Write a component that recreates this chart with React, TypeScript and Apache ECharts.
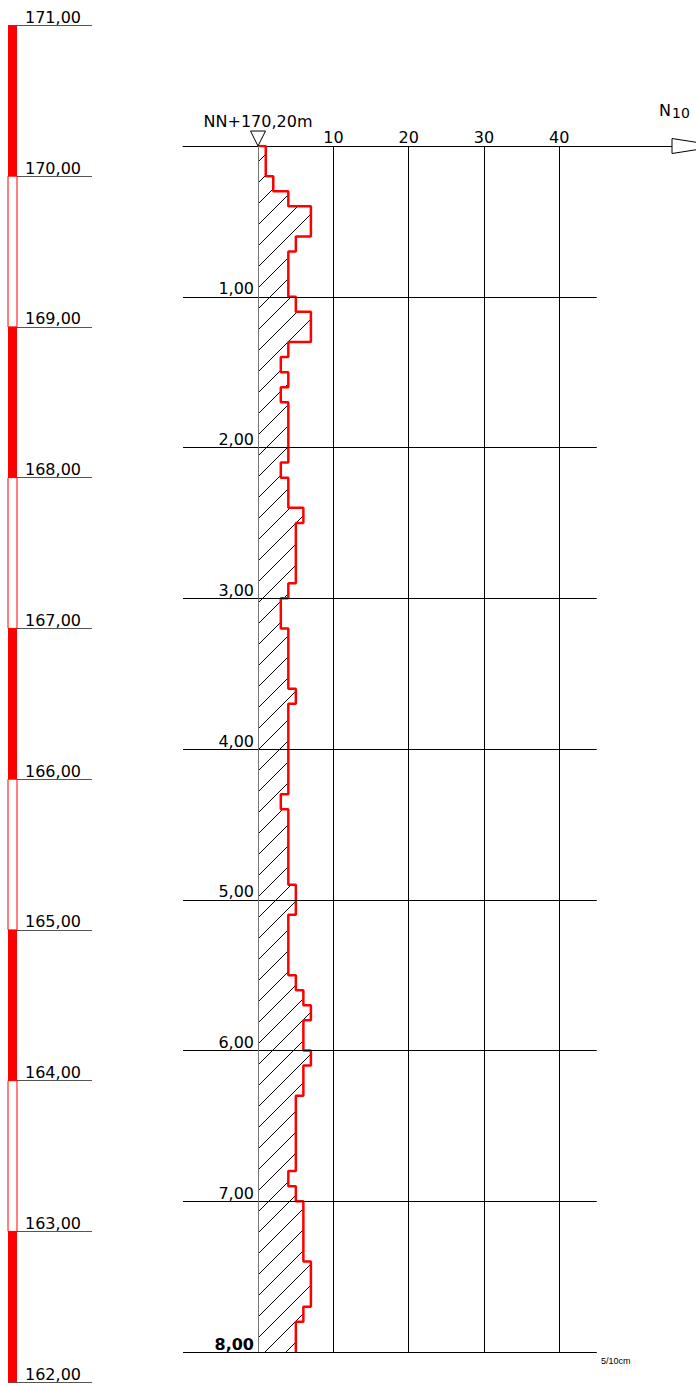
import React, { useEffect, useRef } from 'react';
import * as echarts from 'echarts';

// N10 blow counts per 10 cm, depth 0.0 .. 8.0 m
const depthStep = 0.1;
const n10Values = [
  1, 1, 2, 4, 7, 7, 5, 4, 4, 4,
  5, 7, 7, 4, 3, 4, 3, 4, 4, 4,
  4, 3, 4, 4, 6, 5, 5, 5, 5, 4,
  3, 3, 4, 4, 4, 4, 5, 4, 4, 4,
  4, 4, 4, 3, 4, 4, 4, 4, 4, 5,
  5, 4, 4, 4, 4, 5, 6, 7, 6, 6,
  7, 6, 6, 5, 5, 5, 5, 5, 4, 5,
  6, 6, 6, 6, 7, 7, 7, 6, 5, 5,
];
const xTickLabels = [10, 20, 30, 40];
const depthLines = [1, 2, 3, 4, 5, 6, 7, 8];
const maxDepth = 8;
const gridLineEnd = 45;
const elevationTops = [171, 170, 169, 168, 167, 166, 165, 164, 163];
const surfaceLabel = 'NN+170,20m';
const scaleNote = '5/10cm';

const FONT = '"DejaVu Sans", sans-serif';

function fmt(v: number): string {
  return v.toFixed(2).replace('.', ',');
}

function makeHatch(): any {
  const s = 21;
  const c = document.createElement('canvas');
  c.width = s;
  c.height = s;
  const ctx = c.getContext('2d')!;
  ctx.fillStyle = '#000';
  for (let x = 0; x < s; x++) {
    ctx.fillRect(x, s - 1 - x, 1, 1);
  }
  return { image: c, repeat: 'repeat', imageWidth: s, imageHeight: s };
}

export default function App() {
  const ref = useRef<HTMLDivElement>(null);

  useEffect(() => {
    document.body.style.margin = '0';
    const chart = echarts.init(ref.current!, null, { renderer: 'svg' });
    const hatch = makeHatch();

    const outline: number[][] = [[0, 0]];
    n10Values.forEach((v, i) => {
      const top = Number((i * depthStep).toFixed(2));
      const bot = Number(((i + 1) * depthStep).toFixed(2));
      outline.push([v, top], [v, bot]);
    });

    const blackLines: any[] = [
      ...xTickLabels.map((x) => [{ coord: [x, 0] }, { coord: [x, maxDepth] }]),
      ...depthLines.map((d) => [{ coord: [-10, d] }, { coord: [gridLineEnd, d] }]),
    ];
    const zeroLine: any[] = [[{ coord: [0, 0] }, { coord: [0, maxDepth] }]];

    const option: any = {
      animation: false,
      backgroundColor: '#fff',
      grid: [
        { left: 183, right: 24, top: 146, bottom: 33 },
        { left: 8, width: 84, top: 25.4, bottom: 2.85 },
      ],
      xAxis: [
        {
          type: 'value',
          gridIndex: 0,
          position: 'top',
          min: -10,
          max: 55,
          interval: 10,
          axisLine: { show: true, onZero: false, lineStyle: { color: '#000', width: 1 } },
          axisTick: { show: false },
          splitLine: { show: false },
          axisLabel: {
            margin: 1,
            fontSize: 16,
            fontFamily: FONT,
            color: '#000',
            formatter: (v: number) => (xTickLabels.includes(v) ? String(v) : ''),
          },
        },
        { type: 'value', gridIndex: 1, min: 0, max: 84, show: false },
      ],
      yAxis: [
        {
          type: 'value',
          gridIndex: 0,
          inverse: true,
          min: 0,
          max: maxDepth,
          interval: 1,
          axisLine: { show: false, onZero: false },
          axisTick: { show: false },
          splitLine: { show: false },
          axisLabel: {
            inside: true,
            align: 'right',
            margin: 71,
            fontSize: 16,
            fontFamily: FONT,
            color: '#000',
            verticalAlign: 'bottom',
            formatter: (v: number) => (v === 0 ? '' : v === maxDepth ? '{b|' + fmt(v) + '}' : fmt(v)),
            rich: { b: { fontSize: 16, fontFamily: FONT, fontWeight: 'bold', color: '#000' } },
          },
        },
        {
          type: 'value',
          gridIndex: 1,
          min: 162,
          max: 171,
          interval: 1,
          axisLine: { show: false },
          axisTick: { show: false },
          splitLine: { show: true, lineStyle: { color: '#555', width: 1 } },
          axisLabel: {
            inside: true,
            margin: 17,
            verticalAlign: 'bottom',
            fontSize: 16,
            fontFamily: FONT,
            color: '#000',
            formatter: (v: number) => fmt(v),
          },
        },
      ],
      series: [
        {
          type: 'line',
          xAxisIndex: 0,
          yAxisIndex: 0,
          data: [],
          symbol: 'none',
          silent: true,
          z: 1,
          markLine: {
            silent: true,
            symbol: ['none', 'none'],
            label: { show: false },
            lineStyle: { color: '#000', width: 1, type: 'solid' },
            data: blackLines,
          },
        },
        {
          type: 'custom',
          xAxisIndex: 0,
          yAxisIndex: 0,
          silent: true,
          z: 2,
          data: [[0, 0]],
          renderItem: (_p: any, api: any) => {
            const pts = outline.map((p) => api.coord(p));
            pts.push(api.coord([0, maxDepth]));
            return {
              type: 'polygon',
              shape: { points: pts },
              style: { fill: hatch, stroke: 'none' },
            };
          },
        },
        {
          type: 'line',
          xAxisIndex: 0,
          yAxisIndex: 0,
          data: [],
          symbol: 'none',
          silent: true,
          z: 3,
          markLine: {
            silent: true,
            symbol: ['none', 'none'],
            label: { show: false },
            lineStyle: { color: '#777', width: 1, type: 'solid' },
            data: zeroLine,
          },
        },
        {
          type: 'line',
          xAxisIndex: 0,
          yAxisIndex: 0,
          data: outline,
          symbol: 'none',
          showSymbol: false,
          silent: true,
          z: 4,
          lineStyle: { color: '#ff0000', width: 2.5 },
        },
        {
          type: 'custom',
          xAxisIndex: 1,
          yAxisIndex: 1,
          silent: true,
          z: 5,
          data: elevationTops.map((t, i) => [t, t - 1, i % 2 === 0 ? 1 : 0]),
          renderItem: (_p: any, api: any) => {
            const a = api.coord([0, api.value(0)]);
            const b = api.coord([9, api.value(1)]);
            const filled = api.value(2) === 1;
            return {
              type: 'rect',
              shape: { x: a[0], y: a[1], width: b[0] - a[0], height: b[1] - a[1] },
              style: {
                fill: filled ? '#ff0000' : '#fff',
                stroke: '#ff0000',
                lineWidth: filled ? 0 : 1,
              },
            };
          },
        },
      ],
      graphic: [
        {
          type: 'text',
          x: 258,
          y: 121,
          style: {
            text: surfaceLabel,
            font: '16px ' + FONT,
            fill: '#000',
            align: 'center',
            verticalAlign: 'middle',
            textAlign: 'center',
            textVerticalAlign: 'middle',
          },
        },
        {
          type: 'polygon',
          shape: { points: [[250.5, 131], [265.5, 131], [258, 146]] },
          style: { fill: '#fff', stroke: '#000', lineWidth: 1 },
          z: 10,
        },
        {
          type: 'polygon',
          shape: { points: [[672, 138.5], [672, 153.5], [720, 146]] },
          style: { fill: '#fff', stroke: '#000', lineWidth: 1 },
          z: 10,
        },
        {
          type: 'text',
          x: 659,
          y: 110,
          style: {
            text: 'N',
            font: '16px ' + FONT,
            fill: '#000',
            align: 'left',
            verticalAlign: 'middle',
            textAlign: 'left',
            textVerticalAlign: 'middle',
          },
        },
        {
          type: 'text',
          x: 672,
          y: 113,
          style: {
            text: '10',
            font: '14px ' + FONT,
            fill: '#000',
            align: 'left',
            verticalAlign: 'middle',
            textAlign: 'left',
            textVerticalAlign: 'middle',
          },
        },
        {
          type: 'text',
          x: 601,
          y: 1361,
          style: {
            text: scaleNote,
            font: '9px "Liberation Sans", sans-serif',
            fill: '#000',
            align: 'left',
            verticalAlign: 'middle',
            textAlign: 'left',
            textVerticalAlign: 'middle',
          },
        },
      ],
    };

    chart.setOption(option);
    return () => chart.dispose();
  }, []);

  return (
    <div
      ref={ref}
      style={{ position: 'absolute', left: 0, top: 0, width: 696, height: 1385, background: '#fff' }}
    />
  );
}
